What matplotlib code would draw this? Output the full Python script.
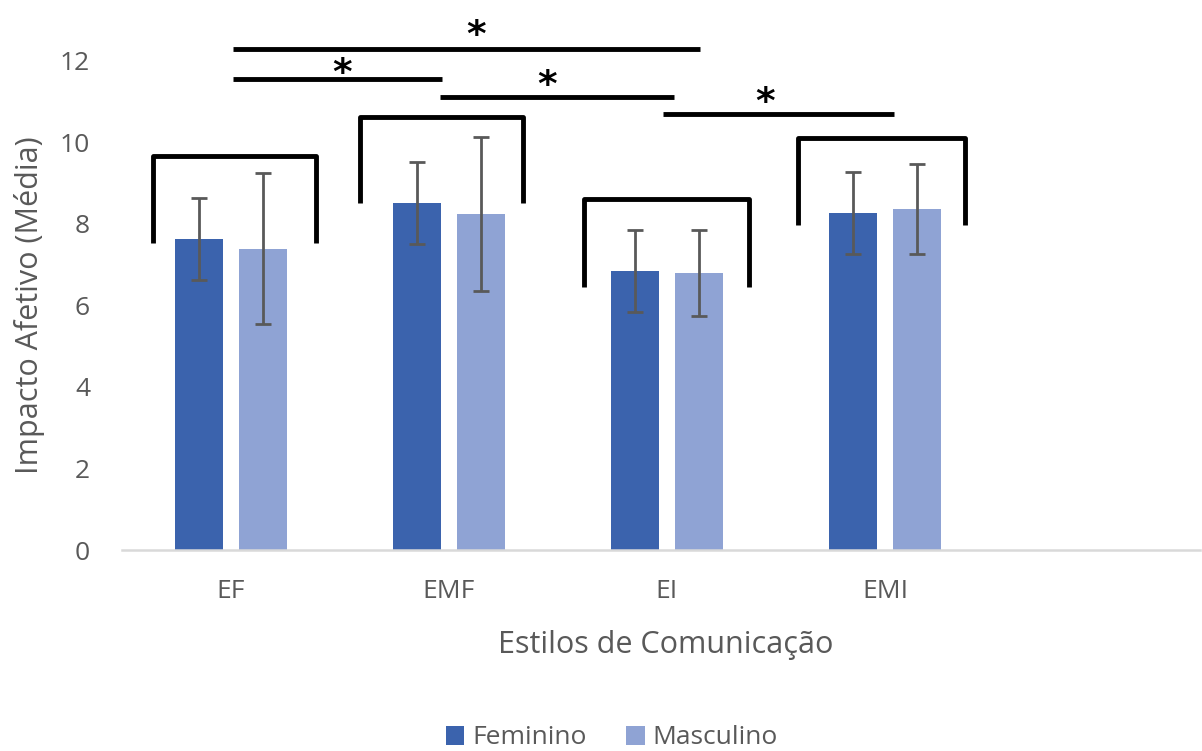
import matplotlib
matplotlib.use("Agg")
import matplotlib.pyplot as plt
import matplotlib.transforms as mtransforms
import numpy as np

plt.rcParams['font.family'] = ['Open Sans', 'DejaVu Sans']

categories = ['EF', 'EMF', 'EI', 'EMI']
feminino = [7.62, 8.50, 6.84, 8.26]
masculino = [7.39, 8.24, 6.79, 8.36]
feminino_sd = [1.0, 1.0, 1.0, 1.0]
masculino_sd = [1.85, 1.88, 1.05, 1.10]
series_names = ['Feminino', 'Masculino']
yticks = [0, 2, 4, 6, 8, 10, 12]

# group brackets (category index, left/right offsets, top and leg-bottom values)
bracket_left = [-0.36, -0.41, -0.38, -0.40]
bracket_right = [0.39, 0.34, 0.376, 0.367]
bracket_top = [9.66, 10.62, 8.60, 10.11]
bracket_bottom = [7.53, 8.50, 6.45, 7.97]

# significance lines: start, end (category units), height, asterisk position
sig_start = [0.01, 0.01, 0.96, 1.98]
sig_end = [2.15, 0.97, 2.03, 3.04]
sig_y = [12.28, 11.54, 11.10, 10.69]
star_x = [1.125, 0.51, 1.45, 2.45]
star_y = [12.87, 11.93, 11.64, 11.22]

c_fem = '#3B63AD'
c_masc = '#8FA3D4'
txt = '#595959'

fig = plt.figure(figsize=(12.02, 7.51), dpi=100)
ax = fig.add_axes([122/1202, (751-550)/751, (1200-122)/1202, (550-60.5)/751])

x = np.arange(len(categories))
w = 0.22
off = 0.145
ax.bar(x - off, feminino, w, color=c_fem, label=series_names[0], zorder=2)
ax.bar(x + off, masculino, w, color=c_masc, label=series_names[1], zorder=2)
ax.errorbar(x - off, feminino, yerr=feminino_sd, fmt='none', ecolor='#595959',
            elinewidth=2.0, capsize=5.5, capthick=2.0, zorder=3)
ax.errorbar(x + off, masculino, yerr=masculino_sd, fmt='none', ecolor='#595959',
            elinewidth=2.0, capsize=5.5, capthick=2.0, zorder=3)

for i in range(len(categories)):
    xl = x[i] + bracket_left[i]
    xr = x[i] + bracket_right[i]
    ax.plot([xl, xl, xr, xr], [bracket_bottom[i], bracket_top[i], bracket_top[i], bracket_bottom[i]],
            color='black', lw=3.5, solid_joinstyle='round', solid_capstyle='butt', clip_on=False, zorder=4)

star_fs = 27
star_tr = mtransforms.offset_copy(ax.transData, fig=fig, x=0, y=-0.56*star_fs, units='points')
for i in range(len(sig_y)):
    ax.plot([sig_start[i], sig_end[i]], [sig_y[i], sig_y[i]], color='black', lw=3.5,
            solid_capstyle='butt', clip_on=False, zorder=4)
    ax.text(star_x[i], star_y[i], '*', ha='center', va='baseline', fontsize=star_fs,
            fontweight='bold', color='black', clip_on=False, family='DejaVu Sans',
            transform=star_tr)

ax.set_xlim(-0.5, 4.445)
ax.set_ylim(0, 12)
ax.set_yticks(yticks)
ax.set_yticklabels([str(t) for t in yticks])
ax.set_xticks(x)
ax.set_xticklabels(categories)
ax.tick_params(axis='y', length=0, pad=23, labelsize=19, labelcolor=txt)
ax.tick_params(axis='x', length=0, pad=21, labelsize=19, labelcolor=txt)
for s in ['top', 'right', 'left']:
    ax.spines[s].set_visible(False)
ax.spines['bottom'].set_color('#D9D9D9')
ax.spines['bottom'].set_linewidth(1.8)

fig.text(666/1202, 1 - 645/751, 'Estilos de Comunicação', ha='center', va='center',
         fontsize=22, color=txt)
fig.text(30/1202, 1 - 305/751, 'Impacto Afetivo (Média)', rotation=90, ha='center', va='center',
         fontsize=22, color=txt)

leg = fig.legend(loc='center', bbox_to_anchor=(612/1202, 1 - 738/751), ncol=2, frameon=False,
                 fontsize=19, handlelength=0.7, handleheight=0.7, handletextpad=0.3, columnspacing=1.5)
for t in leg.get_texts():
    t.set_color(txt)

fig.savefig('out.png', dpi=100)
